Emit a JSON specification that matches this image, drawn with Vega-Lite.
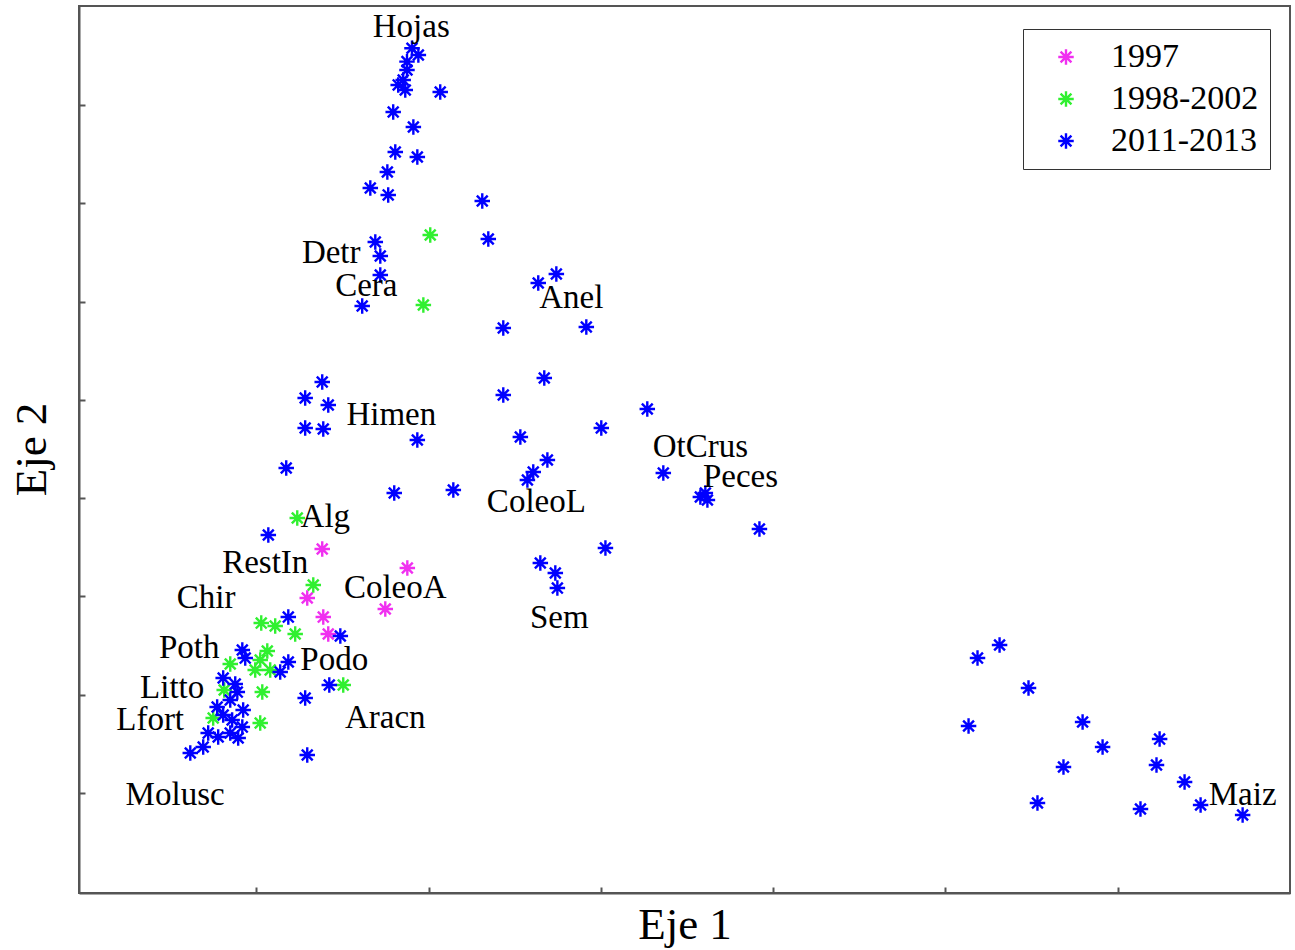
{
  "$schema": "https://vega.github.io/schema/vega-lite/v6.json",
  "width": 1211,
  "height": 887,
  "autosize": "none",
  "padding": {"left": 79, "top": 6, "right": 5, "bottom": 57},
  "background": "white",
  "config": {
    "view": {"stroke": "#555555", "strokeWidth": 2},
    "axis": {
      "grid": false,
      "labels": false,
      "domainColor": "#555555",
      "domainWidth": 2,
      "tickColor": "#555555",
      "tickWidth": 2,
      "tickSize": -6,
      "titleFont": "Liberation Serif",
      "titleFontSize": 45,
      "titleFontWeight": "normal",
      "titleColor": "#000000"
    }
  },
  "datasets": {
    "points": [
      {"x": 1.382, "y": 3.482, "period": "1997"},
      {"x": 1.876, "y": 3.289, "period": "1997"},
      {"x": 1.295, "y": 2.984, "period": "1997"},
      {"x": 1.748, "y": 2.872, "period": "1997"},
      {"x": 1.388, "y": 2.790, "period": "1997"},
      {"x": 1.417, "y": 2.618, "period": "1997"},
      {"x": 2.009, "y": 6.677, "period": "1998-2002"},
      {"x": 1.969, "y": 5.964, "period": "1998-2002"},
      {"x": 1.237, "y": 3.798, "period": "1998-2002"},
      {"x": 1.330, "y": 3.116, "period": "1998-2002"},
      {"x": 1.028, "y": 2.729, "period": "1998-2002"},
      {"x": 1.109, "y": 2.699, "period": "1998-2002"},
      {"x": 1.225, "y": 2.618, "period": "1998-2002"},
      {"x": 1.063, "y": 2.445, "period": "1998-2002"},
      {"x": 1.022, "y": 2.353, "period": "1998-2002"},
      {"x": 0.848, "y": 2.312, "period": "1998-2002"},
      {"x": 0.993, "y": 2.251, "period": "1998-2002"},
      {"x": 1.080, "y": 2.251, "period": "1998-2002"},
      {"x": 0.813, "y": 2.048, "period": "1998-2002"},
      {"x": 1.034, "y": 2.027, "period": "1998-2002"},
      {"x": 1.504, "y": 2.099, "period": "1998-2002"},
      {"x": 0.749, "y": 1.763, "period": "1998-2002"},
      {"x": 1.022, "y": 1.712, "period": "1998-2002"},
      {"x": 1.903, "y": 8.576, "period": "2011-2013"},
      {"x": 1.940, "y": 8.508, "period": "2011-2013"},
      {"x": 1.874, "y": 8.440, "period": "2011-2013"},
      {"x": 1.874, "y": 8.355, "period": "2011-2013"},
      {"x": 1.852, "y": 8.253, "period": "2011-2013"},
      {"x": 1.823, "y": 8.203, "period": "2011-2013"},
      {"x": 1.864, "y": 8.152, "period": "2011-2013"},
      {"x": 2.067, "y": 8.131, "period": "2011-2013"},
      {"x": 1.794, "y": 7.928, "period": "2011-2013"},
      {"x": 1.911, "y": 7.775, "period": "2011-2013"},
      {"x": 1.806, "y": 7.521, "period": "2011-2013"},
      {"x": 1.934, "y": 7.470, "period": "2011-2013"},
      {"x": 1.760, "y": 7.317, "period": "2011-2013"},
      {"x": 1.661, "y": 7.155, "period": "2011-2013"},
      {"x": 1.765, "y": 7.084, "period": "2011-2013"},
      {"x": 2.311, "y": 7.022, "period": "2011-2013"},
      {"x": 2.346, "y": 6.636, "period": "2011-2013"},
      {"x": 1.690, "y": 6.605, "period": "2011-2013"},
      {"x": 1.719, "y": 6.463, "period": "2011-2013"},
      {"x": 1.719, "y": 6.270, "period": "2011-2013"},
      {"x": 1.614, "y": 5.954, "period": "2011-2013"},
      {"x": 2.636, "y": 6.188, "period": "2011-2013"},
      {"x": 2.741, "y": 6.280, "period": "2011-2013"},
      {"x": 2.433, "y": 5.730, "period": "2011-2013"},
      {"x": 2.915, "y": 5.741, "period": "2011-2013"},
      {"x": 2.671, "y": 5.222, "period": "2011-2013"},
      {"x": 2.433, "y": 5.049, "period": "2011-2013"},
      {"x": 3.269, "y": 4.906, "period": "2011-2013"},
      {"x": 3.002, "y": 4.713, "period": "2011-2013"},
      {"x": 2.532, "y": 4.622, "period": "2011-2013"},
      {"x": 2.689, "y": 4.388, "period": "2011-2013"},
      {"x": 2.607, "y": 4.266, "period": "2011-2013"},
      {"x": 2.573, "y": 4.184, "period": "2011-2013"},
      {"x": 2.143, "y": 4.082, "period": "2011-2013"},
      {"x": 3.362, "y": 4.255, "period": "2011-2013"},
      {"x": 3.577, "y": 4.011, "period": "2011-2013"},
      {"x": 3.618, "y": 3.981, "period": "2011-2013"},
      {"x": 3.606, "y": 4.052, "period": "2011-2013"},
      {"x": 3.920, "y": 3.686, "period": "2011-2013"},
      {"x": 3.026, "y": 3.492, "period": "2011-2013"},
      {"x": 2.648, "y": 3.340, "period": "2011-2013"},
      {"x": 2.735, "y": 3.238, "period": "2011-2013"},
      {"x": 2.747, "y": 3.085, "period": "2011-2013"},
      {"x": 1.382, "y": 5.181, "period": "2011-2013"},
      {"x": 1.283, "y": 5.018, "period": "2011-2013"},
      {"x": 1.417, "y": 4.947, "period": "2011-2013"},
      {"x": 1.283, "y": 4.713, "period": "2011-2013"},
      {"x": 1.388, "y": 4.703, "period": "2011-2013"},
      {"x": 1.934, "y": 4.591, "period": "2011-2013"},
      {"x": 1.173, "y": 4.306, "period": "2011-2013"},
      {"x": 1.800, "y": 4.052, "period": "2011-2013"},
      {"x": 1.069, "y": 3.625, "period": "2011-2013"},
      {"x": 1.185, "y": 2.790, "period": "2011-2013"},
      {"x": 1.487, "y": 2.597, "period": "2011-2013"},
      {"x": 0.918, "y": 2.455, "period": "2011-2013"},
      {"x": 0.935, "y": 2.373, "period": "2011-2013"},
      {"x": 1.138, "y": 2.231, "period": "2011-2013"},
      {"x": 1.185, "y": 2.333, "period": "2011-2013"},
      {"x": 0.807, "y": 2.170, "period": "2011-2013"},
      {"x": 0.877, "y": 2.109, "period": "2011-2013"},
      {"x": 0.889, "y": 2.027, "period": "2011-2013"},
      {"x": 0.848, "y": 1.946, "period": "2011-2013"},
      {"x": 1.283, "y": 1.966, "period": "2011-2013"},
      {"x": 1.423, "y": 2.099, "period": "2011-2013"},
      {"x": 0.772, "y": 1.875, "period": "2011-2013"},
      {"x": 0.923, "y": 1.844, "period": "2011-2013"},
      {"x": 0.807, "y": 1.794, "period": "2011-2013"},
      {"x": 0.859, "y": 1.743, "period": "2011-2013"},
      {"x": 0.918, "y": 1.671, "period": "2011-2013"},
      {"x": 0.720, "y": 1.610, "period": "2011-2013"},
      {"x": 0.778, "y": 1.570, "period": "2011-2013"},
      {"x": 0.894, "y": 1.560, "period": "2011-2013"},
      {"x": 0.691, "y": 1.468, "period": "2011-2013"},
      {"x": 0.616, "y": 1.407, "period": "2011-2013"},
      {"x": 1.295, "y": 1.387, "period": "2011-2013"},
      {"x": 0.848, "y": 1.610, "period": "2011-2013"},
      {"x": 5.186, "y": 2.373, "period": "2011-2013"},
      {"x": 5.314, "y": 2.506, "period": "2011-2013"},
      {"x": 5.482, "y": 2.068, "period": "2011-2013"},
      {"x": 5.134, "y": 1.682, "period": "2011-2013"},
      {"x": 5.796, "y": 1.722, "period": "2011-2013"},
      {"x": 5.912, "y": 1.468, "period": "2011-2013"},
      {"x": 5.685, "y": 1.265, "period": "2011-2013"},
      {"x": 5.534, "y": 0.898, "period": "2011-2013"},
      {"x": 6.243, "y": 1.549, "period": "2011-2013"},
      {"x": 6.225, "y": 1.285, "period": "2011-2013"},
      {"x": 6.388, "y": 1.112, "period": "2011-2013"},
      {"x": 6.481, "y": 0.878, "period": "2011-2013"},
      {"x": 6.132, "y": 0.837, "period": "2011-2013"},
      {"x": 6.725, "y": 0.776, "period": "2011-2013"}
    ],
    "labels": [
      {"x": 1.899, "y": 8.793, "name": "Hojas"},
      {"x": 1.434, "y": 6.493, "name": "Detr"},
      {"x": 1.638, "y": 6.158, "name": "Cera"},
      {"x": 2.828, "y": 6.036, "name": "Anel"},
      {"x": 1.783, "y": 4.845, "name": "Himen"},
      {"x": 3.577, "y": 4.520, "name": "OtCrus"},
      {"x": 3.810, "y": 4.215, "name": "Peces"},
      {"x": 2.625, "y": 3.960, "name": "ColeoL"},
      {"x": 1.400, "y": 3.808, "name": "Alg"},
      {"x": 1.051, "y": 3.340, "name": "RestIn"},
      {"x": 1.806, "y": 3.085, "name": "ColeoA"},
      {"x": 0.708, "y": 2.984, "name": "Chir"},
      {"x": 2.758, "y": 2.780, "name": "Sem"},
      {"x": 0.610, "y": 2.475, "name": "Poth"},
      {"x": 1.452, "y": 2.353, "name": "Podo"},
      {"x": 0.511, "y": 2.068, "name": "Litto"},
      {"x": 1.748, "y": 1.763, "name": "Aracn"},
      {"x": 0.383, "y": 1.743, "name": "Lfort"},
      {"x": 0.528, "y": 0.980, "name": "Molusc"},
      {"x": 6.725, "y": 0.980, "name": "Maiz"}
    ]
  },
  "layer": [
    {
      "data": {"name": "points"},
      "mark": {
        "type": "point",
        "shape": "M-1,0L1,0M0,-1L0,1M-0.7,-0.7L0.7,0.7M-0.7,0.7L0.7,-0.7",
        "filled": false,
        "size": 240,
        "strokeWidth": 2.4,
        "opacity": 1
      },
      "encoding": {
        "x": {
          "field": "x", "type": "quantitative",
          "scale": {"domain": [-0.03, 7.0], "nice": false, "zero": false},
          "axis": {"title": "Eje 1", "values": [1, 2, 3, 4, 5, 6], "titleY": 45, "titleBaseline": "alphabetic"}
        },
        "y": {
          "field": "y", "type": "quantitative",
          "scale": {"domain": [-0.017, 9.006], "nice": false, "zero": false},
          "axis": {"title": "Eje 2", "values": [1, 2, 3, 4, 5, 6, 7, 8], "titleX": -34, "titleY": 443, "titleBaseline": "alphabetic", "titleAngle": -90}
        },
        "color": {
          "field": "period", "type": "nominal",
          "scale": {"domain": ["1997", "1998-2002", "2011-2013"], "range": ["#f030f0", "#30f030", "#0000ff"]},
          "legend": {
            "title": null,
            "orient": "none",
            "legendX": 944,
            "legendY": 23,
            "padding": 11,
            "strokeColor": "#333333",
            "fillColor": "#ffffff",
            "symbolType": "M-1,0L1,0M0,-1L0,1M-0.7,-0.7L0.7,0.7M-0.7,0.7L0.7,-0.7",
            "symbolSize": 240,
            "symbolStrokeWidth": 2.4,
            "symbolOffset": 15,
            "labelOffset": 28,
            "labelFont": "Liberation Serif",
            "labelFontSize": 34,
            "labelColor": "#000000",
            "rowPadding": 8
          }
        }
      }
    },
    {
      "data": {"name": "labels"},
      "mark": {
        "type": "text",
        "font": "Liberation Serif",
        "fontSize": 33,
        "color": "#000000",
        "align": "center",
        "baseline": "middle"
      },
      "encoding": {
        "x": {"field": "x", "type": "quantitative"},
        "y": {"field": "y", "type": "quantitative"},
        "text": {"field": "name"}
      }
    }
  ]
}
